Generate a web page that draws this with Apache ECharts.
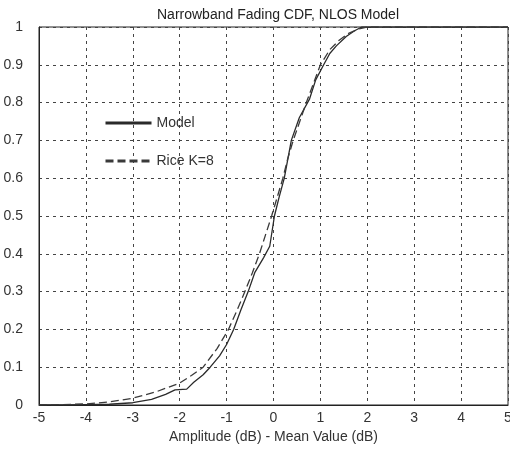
<!DOCTYPE html>
<html>
<head>
<meta charset="utf-8">
<script src="https://cdn.jsdelivr.net/npm/echarts@6/dist/echarts.min.js"></script>
<style>
  html, body { margin: 0; padding: 0; background: #fff; }
  #chart { width: 510px; height: 455px; }
</style>
</head>
<body>
<div id="chart"></div>
<script>
// Amplitude relative to mean (dB) and cumulative probability
const modelX = [-5, -4.5, -4, -3.5, -3, -2.6, -2.3, -2.1, -1.85, -1.7, -1.5, -1.35, -1.15, -1.0, -0.85, -0.7, -0.54, -0.4, -0.21, -0.08, 0.02, 0.12, 0.23, 0.38, 0.55, 0.77, 0.9, 1.07, 1.2, 1.34, 1.55, 1.73, 1.88, 5];
const modelY = [0, 0, 0.001, 0.002, 0.006, 0.015, 0.028, 0.04, 0.042, 0.06, 0.08, 0.1, 0.13, 0.16, 0.2, 0.25, 0.3, 0.35, 0.39, 0.42, 0.5, 0.55, 0.6, 0.7, 0.76, 0.81, 0.86, 0.9, 0.93, 0.95, 0.975, 0.99, 1.0, 1.0];

const riceX = [-5, -4.5, -4, -3.5, -3, -2.5, -2, -1.75, -1.5, -1.2, -0.96, -0.78, -0.61, -0.45, -0.3, -0.17, -0.04, 0.08, 0.2, 0.3, 0.42, 0.56, 0.7, 0.85, 1.0, 1.2, 1.4, 1.6, 1.8, 2.0, 5];
const riceY = [0, 0.001, 0.003, 0.008, 0.018, 0.035, 0.058, 0.078, 0.1, 0.15, 0.2, 0.25, 0.3, 0.35, 0.4, 0.45, 0.5, 0.55, 0.6, 0.65, 0.7, 0.75, 0.8, 0.85, 0.9, 0.94, 0.965, 0.983, 0.994, 1.0, 1.0];

const xTicks = [-5, -4, -3, -2, -1, 0, 1, 2, 3, 4, 5];
const yTicks = [0, 0.1, 0.2, 0.3, 0.4, 0.5, 0.6, 0.7, 0.8, 0.9, 1];

const pairs = (xs, ys) => xs.map((x, i) => [x, ys[i]]);

const font = 'Liberation Sans, Arial, sans-serif';
const chart = echarts.init(document.getElementById('chart'), null, { renderer: 'canvas' });

const gridLine = { show: true, lineStyle: { color: '#444', width: 1, type: [3, 4] } };

chart.setOption({
  animation: false,
  backgroundColor: '#fff',
  title: {
    text: 'Narrowband Fading CDF, NLOS Model',
    left: 273, top: 3, textAlign: 'center',
    textStyle: { fontFamily: font, fontSize: 14, fontWeight: 'normal', color: '#222' }
  },
  legend: {
    orient: 'vertical', left: 99, top: 111, itemGap: 24,
    itemWidth: 46, itemHeight: 16,
    textStyle: { fontFamily: font, fontSize: 14, color: '#333' },
    itemStyle: { opacity: 0, borderWidth: 0 },
    lineStyle: { width: 3 },
    data: ['Model', 'Rice K=8']
  },
  grid: { left: 39, right: 2, top: 27, bottom: 50, outerBoundsMode: 'none', containLabel: false,
    show: true, borderColor: '#222', borderWidth: 1 },
  xAxis: {
    type: 'value', min: -5, max: 5, interval: 1,
    name: 'Amplitude (dB) - Mean Value (dB)', nameLocation: 'middle', nameGap: 24,
    nameTextStyle: { fontFamily: font, fontSize: 14, color: '#333' },
    axisLine: { show: true, onZero: false, lineStyle: { color: '#222' } },
    axisTick: { show: false },
    axisLabel: { fontFamily: font, fontSize: 14, color: '#333', margin: 6,
      formatter: v => xTicks.includes(v) ? String(v) : '' },
    splitLine: gridLine
  },
  yAxis: {
    type: 'value', min: 0, max: 1, interval: 0.1,
    axisLine: { show: true, onZero: false, lineStyle: { color: '#222' } },
    axisTick: { show: false },
    axisLabel: { fontFamily: font, fontSize: 14, color: '#333', margin: 16,
      formatter: v => {
        const t = yTicks.find(k => Math.abs(k - v) < 1e-9);
        return t === undefined ? '' : String(t);
      } },
    splitLine: gridLine
  },
  series: [
    {
      name: 'Model', type: 'line', data: pairs(modelX, modelY),
      showSymbol: false, symbol: 'none',
      lineStyle: { color: '#2a2a2a', width: 1.3, type: 'solid' },
      itemStyle: { color: '#2a2a2a' }
    },
    {
      name: 'Rice K=8', type: 'line', data: pairs(riceX, riceY),
      showSymbol: false, symbol: 'none',
      lineStyle: { color: '#3a3a3a', width: 1.3, type: [8, 4] },
      itemStyle: { color: '#3a3a3a' }
    }
  ]
});
</script>
</body>
</html>
